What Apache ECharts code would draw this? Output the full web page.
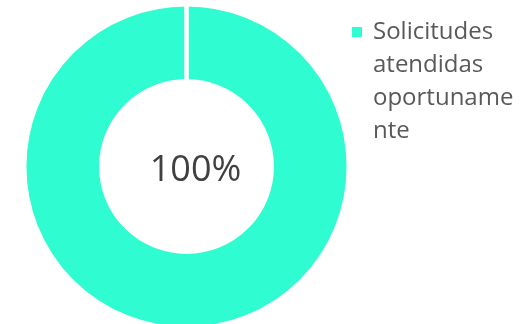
<!DOCTYPE html>
<html>
<head>
<meta charset="utf-8">
<script src="https://cdn.jsdelivr.net/npm/echarts@6/dist/echarts.min.js"></script>
<style>
  html, body { margin: 0; padding: 0; background: #ffffff; }
  #chart { width: 528px; height: 324px; }
</style>
</head>
<body>
<div id="chart"></div>
<script>
// Share of requests handled on time
const categories = ['Solicitudes atendidas oportunamente'];
const values = [100];
// Legend text, broken the same way the narrow legend column wraps it
const legendLines = ['Solicitudes', 'atendidas', 'oportuname', 'nte'];
const sliceColors = ['#2FFCD1'];

const chart = echarts.init(document.getElementById('chart'), null, { renderer: 'canvas' });

const data = categories.map((name, i) => ({
  name: name,
  value: values[i],
  itemStyle: { color: sliceColors[i] }
}));

chart.setOption({
  animation: false,
  backgroundColor: '#ffffff',
  legend: {
    left: 347,
    top: 20,
    padding: 0,
    icon: 'none',
    itemWidth: 0,
    itemGap: 0,
    selectedMode: false,
    data: categories,
    formatter: function () {
      return legendLines.map((line, i) => (i === 0 ? '{m|}{s|}' : '{p|}') + '{t|' + line + '}').join('\n');
    },
    textStyle: {
      rich: {
        m: { width: 10, height: 10, backgroundColor: sliceColors[0] },
        s: { width: 11 },
        p: { width: 21 },
        t: { fontFamily: 'Open Sans', fontSize: 24, color: '#595959', lineHeight: 33 }
      }
    }
  },
  series: [{
    type: 'pie',
    center: [186.5, 166.5],
    radius: [85.2, 162.3],
    startAngle: 90,
    endAngle: 90 - 359.99,
    clockwise: true,
    avoidLabelOverlap: false,
    itemStyle: { borderColor: '#ffffff', borderWidth: 4.5 },
    label: {
      show: true,
      position: 'center',
      // a thin spacer line above the percentage nudges it slightly below the hole's centre
      formatter: '{g|}\n{v|{d}%}',
      rich: {
        g: { height: 9, lineHeight: 9 },
        v: {
          fontFamily: 'Open Sans',
          fontSize: 36,
          color: '#404040',
          padding: [0, 0, 0, 18]
        }
      }
    },
    labelLine: { show: false },
    emphasis: { disabled: true },
    data: data
  }]
});
</script>
</body>
</html>
